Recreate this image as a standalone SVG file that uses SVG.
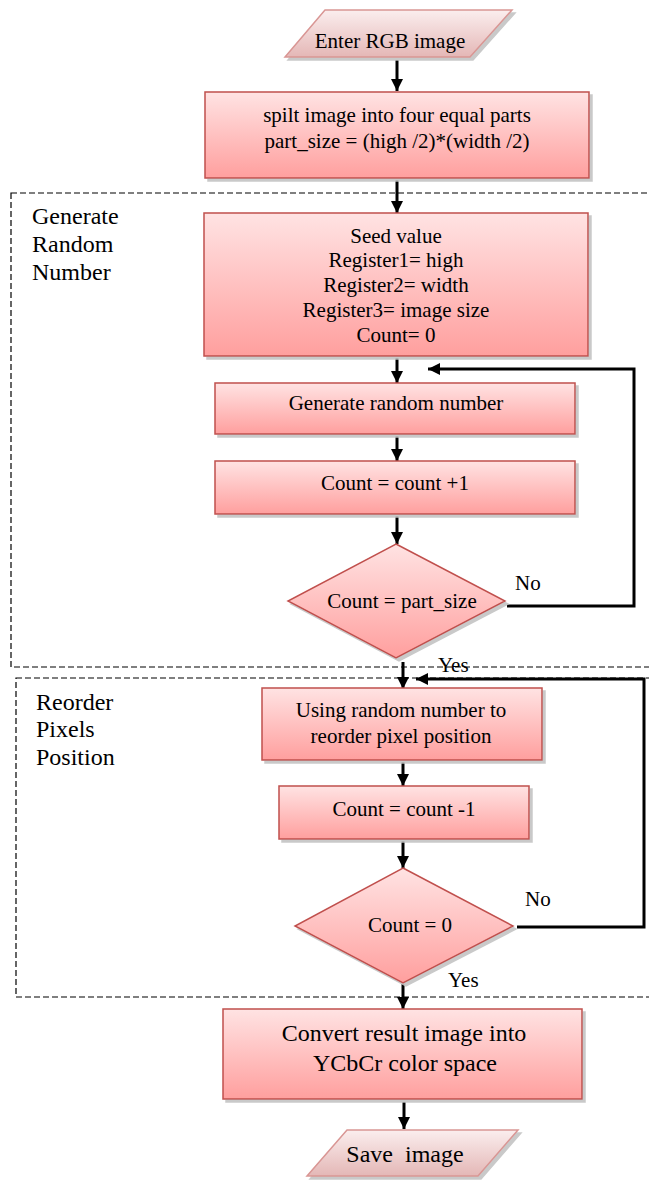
<svg xmlns="http://www.w3.org/2000/svg" width="649" height="1181" viewBox="0 0 649 1181">
<defs>
<linearGradient id="g" x1="0" y1="0" x2="0" y2="1">
<stop offset="0" stop-color="#ffe3e3"/>
<stop offset="1" stop-color="#ff9f9e"/>
</linearGradient>
<linearGradient id="gp" x1="0" y1="0" x2="0" y2="1">
<stop offset="0" stop-color="#fbeeee"/>
<stop offset="1" stop-color="#e4b7b6"/>
</linearGradient>
<marker id="ah" viewBox="0 0 10 10" refX="10" refY="5" markerWidth="4" markerHeight="4" orient="auto" markerUnits="strokeWidth">
<path d="M0,0 L10,5 L0,10 Z" fill="#000"/>
</marker>
<filter id="sh" x="-10%" y="-10%" width="130%" height="130%">
<feOffset in="SourceAlpha" dx="3" dy="3" result="o"/>
<feColorMatrix in="o" type="matrix" values="0 0 0 0 0.55  0 0 0 0 0.55  0 0 0 0 0.55  0 0 0 0.9 0" result="c"/>
<feMerge><feMergeNode in="c"/><feMergeNode in="SourceGraphic"/></feMerge>
</filter>
</defs>
<style>
.box{fill:url(#g);stroke:#c0504d;stroke-width:1.5;filter:url(#sh)}
.io{fill:url(#gp);stroke:#d99694;stroke-width:1.5;filter:url(#sh)}
.t{font-family:"Liberation Serif","Times New Roman",serif;font-size:21px;fill:#000;text-anchor:middle}
.tl{font-family:"Liberation Serif","Times New Roman",serif;font-size:24px;fill:#000}
.tb{font-family:"Liberation Serif","Times New Roman",serif;font-size:24px;fill:#000;text-anchor:middle;white-space:pre}
.lb{font-family:"Liberation Serif","Times New Roman",serif;font-size:21px;fill:#000}
.a{fill:none;stroke:#000;stroke-width:3;marker-end:url(#ah)}
.d{fill:none;stroke:#000;stroke-width:1.2;stroke-dasharray:6,3}
</style>

<g id="groups">
<rect class="d" x="11" y="193" width="645" height="474"/>
<text class="tl" x="32" y="224">Generate</text>
<text class="tl" x="32" y="252">Random</text>
<text class="tl" x="32" y="280">Number</text>
<rect class="d" x="16" y="678" width="640" height="319"/>
<text class="tl" x="36" y="710">Reorder</text>
<text class="tl" x="36" y="737">Pixels</text>
<text class="tl" x="36" y="765">Position</text>
</g>

<g id="connectors">
<line class="a" x1="397" y1="60" x2="397" y2="91"/>
<line class="a" x1="397" y1="180" x2="397" y2="213"/>
<line class="a" x1="397" y1="358" x2="397" y2="383"/>
<line class="a" x1="397" y1="436" x2="397" y2="461"/>
<line class="a" x1="397" y1="516" x2="397" y2="544"/>
<polyline class="a" points="507,606 634,606 634,369 428,369"/>
<line class="a" x1="403" y1="662" x2="403" y2="689"/>
<polyline class="a" points="517,927 644,927 644,679 416,679"/>
<line class="a" x1="403" y1="762" x2="403" y2="786"/>
<line class="a" x1="403" y1="841" x2="403" y2="868"/>
<line class="a" x1="403" y1="984" x2="403" y2="1009"/>
<line class="a" x1="404" y1="1102" x2="404" y2="1129"/>
<text class="lb" x="515" y="590">No</text>
<text class="lb" x="438" y="672">Yes</text>
<text class="lb" x="525" y="906">No</text>
<text class="lb" x="448" y="987">Yes</text>
</g>

<g id="n-enter">
<polygon class="io" points="325,10 512,10 470,57 285,57"/>
<text class="t" x="390" y="48">Enter RGB image</text>
</g>

<g id="n-split">
<rect class="box" x="205" y="92" width="384" height="86"/>
<text class="t" x="397" y="122">spilt image into four equal parts</text>
<text class="t" x="397" y="148">part_size = (high /2)*(width /2)</text>
</g>

<g id="n-seed">
<rect class="box" x="204" y="213" width="384" height="143"/>
<text class="t" x="396" y="243">Seed value</text>
<text class="t" x="396" y="267">Register1= high</text>
<text class="t" x="396" y="292">Register2= width</text>
<text class="t" x="396" y="317">Register3= image size</text>
<text class="t" x="396" y="342">Count= 0</text>
</g>

<g id="n-gen">
<rect class="box" x="215" y="383" width="360" height="51"/>
<text class="t" x="396" y="410">Generate random number</text>
</g>

<g id="n-inc">
<rect class="box" x="215" y="461" width="360" height="53"/>
<text class="t" x="395" y="490">Count = count +1</text>
</g>

<g id="n-dec1">
<polygon class="box" points="396,544 505,601 396,658 288,601"/>
<text class="t" x="402" y="608">Count = part_size</text>
</g>

<g id="n-reorder">
<rect class="box" x="262" y="688" width="280" height="72"/>
<text class="t" x="401" y="717">Using random number to</text>
<text class="t" x="401" y="743">reorder pixel position</text>
</g>

<g id="n-dec">
<rect class="box" x="279" y="786" width="250" height="53"/>
<text class="t" x="404" y="816">Count = count -1</text>
</g>

<g id="n-dec2">
<polygon class="box" points="403,868 513,926 403,983 295,926"/>
<text class="t" x="410" y="932">Count = 0</text>
</g>

<g id="n-convert">
<rect class="box" x="223" y="1009" width="359" height="90"/>
<text class="tb" x="404" y="1041">Convert result image into</text>
<text class="tb" x="405" y="1071">YCbCr color space</text>
</g>

<g id="n-save">
<polygon class="io" points="347,1130 518,1130 478,1176 307,1176"/>
<text class="tb" x="405" y="1162" xml:space="preserve">Save  image</text>
</g>
</svg>
